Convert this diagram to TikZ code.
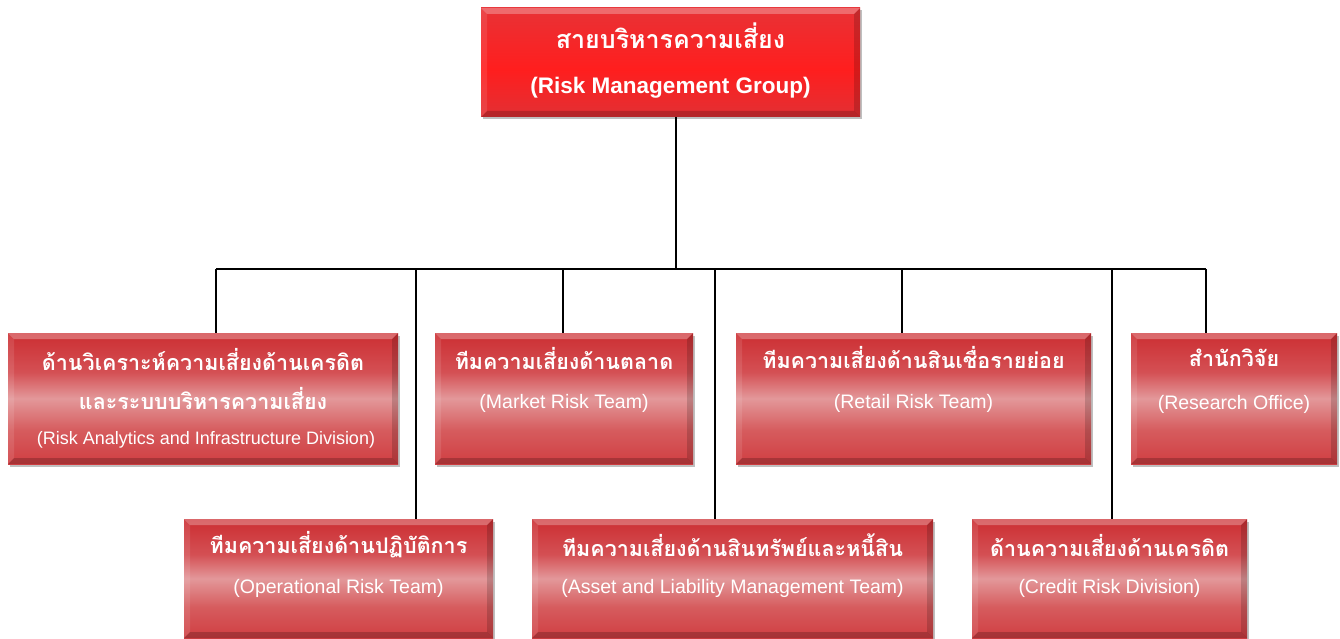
\documentclass[tikz,border=0pt]{standalone}
\usepackage{fontspec}
\setmainfont{Liberation Sans}
\newfontfamily\thaifont[Script=Thai]{Loma}
\usetikzlibrary{shadows,calc}

% face colours of the unit boxes
\definecolor{facetop}{RGB}{204,46,50}
\definecolor{faceupper}{RGB}{212,80,84}
\definecolor{facemid}{RGB}{227,152,154}
\definecolor{facelower}{RGB}{214,92,94}
\definecolor{facebot}{RGB}{208,62,66}
% face colours of the head box
\definecolor{headtop}{RGB}{232,50,54}
\definecolor{headmid}{RGB}{255,30,30}
\definecolor{headbot}{RGB}{226,48,52}

\pgfdeclareverticalshading{unitface}{100bp}{%
  color(0bp)=(facebot); color(25bp)=(facebot); color(38bp)=(facelower);
  color(50bp)=(facemid); color(60bp)=(faceupper); color(75bp)=(facetop);
  color(100bp)=(facetop)}
\pgfdeclareverticalshading{headface}{100bp}{%
  color(0bp)=(headbot); color(25bp)=(headbot); color(47bp)=(headmid);
  color(75bp)=(headtop); color(100bp)=(headtop)}

\tikzset{
  bevel/.style={path picture={
    \coordinate (bnw) at (path picture bounding box.north west);
    \coordinate (bne) at (path picture bounding box.north east);
    \coordinate (bsw) at (path picture bounding box.south west);
    \coordinate (bse) at (path picture bounding box.south east);
    \fill[white,opacity=.28] (bnw) -- (bne) -- ($(bne)+(-6pt,-6pt)$) -- ($(bnw)+(6pt,-6pt)$) -- cycle;
    \fill[white,opacity=.10] (bnw) -- (bsw) -- ($(bsw)+(6pt,6pt)$) -- ($(bnw)+(6pt,-6pt)$) -- cycle;
    \fill[black,opacity=.16] (bne) -- (bse) -- ($(bse)+(-6pt,6pt)$) -- ($(bne)+(-6pt,-6pt)$) -- cycle;
    \fill[black,opacity=.20] (bsw) -- (bse) -- ($(bse)+(-6pt,6pt)$) -- ($(bsw)+(6pt,6pt)$) -- cycle;
  }},
  boxshadow/.style={drop shadow={shadow xshift=2pt, shadow yshift=-2.5pt, opacity=.25, fill=black}},
  unitbox/.style={rectangle, inner sep=0pt, shading=unitface, bevel, boxshadow},
  headbox/.style={rectangle, inner sep=0pt, shading=headface, bevel, boxshadow},
  thai/.style={text=white, inner sep=0pt, font=\thaifont\bfseries\fontsize{21.5}{24}\selectfont},
  thaihead/.style={thai, font=\thaifont\bfseries\fontsize{25}{28}\selectfont},
  eng/.style={text=white, inner sep=0pt, font=\fontsize{19.5}{22}\selectfont},
  engsmall/.style={eng, font=\fontsize{18}{21}\selectfont},
  enghead/.style={eng, font=\bfseries\fontsize{22.5}{26}\selectfont},
  link/.style={draw=black, line width=2pt},
}

\begin{document}
\begin{tikzpicture}[x=1pt, y=-1pt]
\useasboundingbox (0,0) rectangle (1340,639);

% junctions on the horizontal bus
\coordinate (j-ra)  at (216,269);
\coordinate (j-opr) at (416,269);
\coordinate (j-mkt) at (563,269);
\coordinate (j-top) at (676,269);
\coordinate (j-alm) at (715,269);
\coordinate (j-ret) at (902,269);
\coordinate (j-crd) at (1112,269);
\coordinate (j-res) at (1206,269);

% boxes (geometry only; wording is set on top of them)
\node[headbox, minimum width=379pt, minimum height=109pt] (top) at (670.5,62.5) {};
\node[unitbox, minimum width=390pt, minimum height=131pt] (ra)  at (203,398.5) {};
\node[unitbox, minimum width=258pt, minimum height=131pt] (mkt) at (564,398.5) {};
\node[unitbox, minimum width=355pt, minimum height=131pt] (ret) at (913.5,398.5) {};
\node[unitbox, minimum width=206pt, minimum height=131pt] (res) at (1234,398.5) {};
\node[unitbox, minimum width=309pt, minimum height=119pt] (opr) at (338.5,578.5) {};
\node[unitbox, minimum width=401pt, minimum height=119pt] (alm) at (732.5,578.5) {};
\node[unitbox, minimum width=275pt, minimum height=119pt] (crd) at (1109.5,578.5) {};

% connectors
\path[link] (top.south -| j-top) -- (j-top);
\path[link] (j-ra) -- (j-res);
\path[link] (j-ra)  -- (j-ra  |- ra.north);
\path[link] (j-opr) -- (j-opr |- opr.north);
\path[link] (j-mkt) -- (j-mkt |- mkt.north);
\path[link] (j-alm) -- (j-alm |- alm.north);
\path[link] (j-ret) -- (j-ret |- ret.north);
\path[link] (j-crd) -- (j-crd |- crd.north);
\path[link] (j-res) -- (j-res |- res.north);

% wording
\node[thaihead] (top-th) at (670.5,36) {สายบริหารความเสี่ยง};
\node[enghead]  (top-en) at (670.5,87.5) {(Risk Management Group)};

\node[thai]     (ra-th1) at (203,360) {ด้านวิเคราะห์ความเสี่ยงด้านเครดิต};
\node[thai]     (ra-th2) at (203,399) {และระบบบริหารความเสี่ยง};
\node[engsmall] (ra-en)  at (206,440) {(Risk Analytics and Infrastructure Division)};

\node[thai] (mkt-th) at (564,359) {ทีมความเสี่ยงด้านตลาด};
\node[eng]  (mkt-en) at (564,403) {(Market Risk Team)};

\node[thai] (ret-th) at (913.5,358) {ทีมความเสี่ยงด้านสินเชื่อรายย่อย};
\node[eng]  (ret-en) at (913.5,403) {(Retail Risk Team)};

\node[thai] (res-th) at (1234,358) {สำนักวิจัย};
\node[eng]  (res-en) at (1234,404) {(Research Office)};

\node[thai] (opr-th) at (338.5,545) {ทีมความเสี่ยงด้านปฏิบัติการ};
\node[eng]  (opr-en) at (338.5,588) {(Operational Risk Team)};

\node[thai] (alm-th) at (732.5,545) {ทีมความเสี่ยงด้านสินทรัพย์และหนี้สิน};
\node[eng]  (alm-en) at (732.5,588) {(Asset and Liability Management Team)};

\node[thai] (crd-th) at (1109.5,545) {ด้านความเสี่ยงด้านเครดิต};
\node[eng]  (crd-en) at (1109.5,588) {(Credit Risk Division)};
\end{tikzpicture}
\end{document}
